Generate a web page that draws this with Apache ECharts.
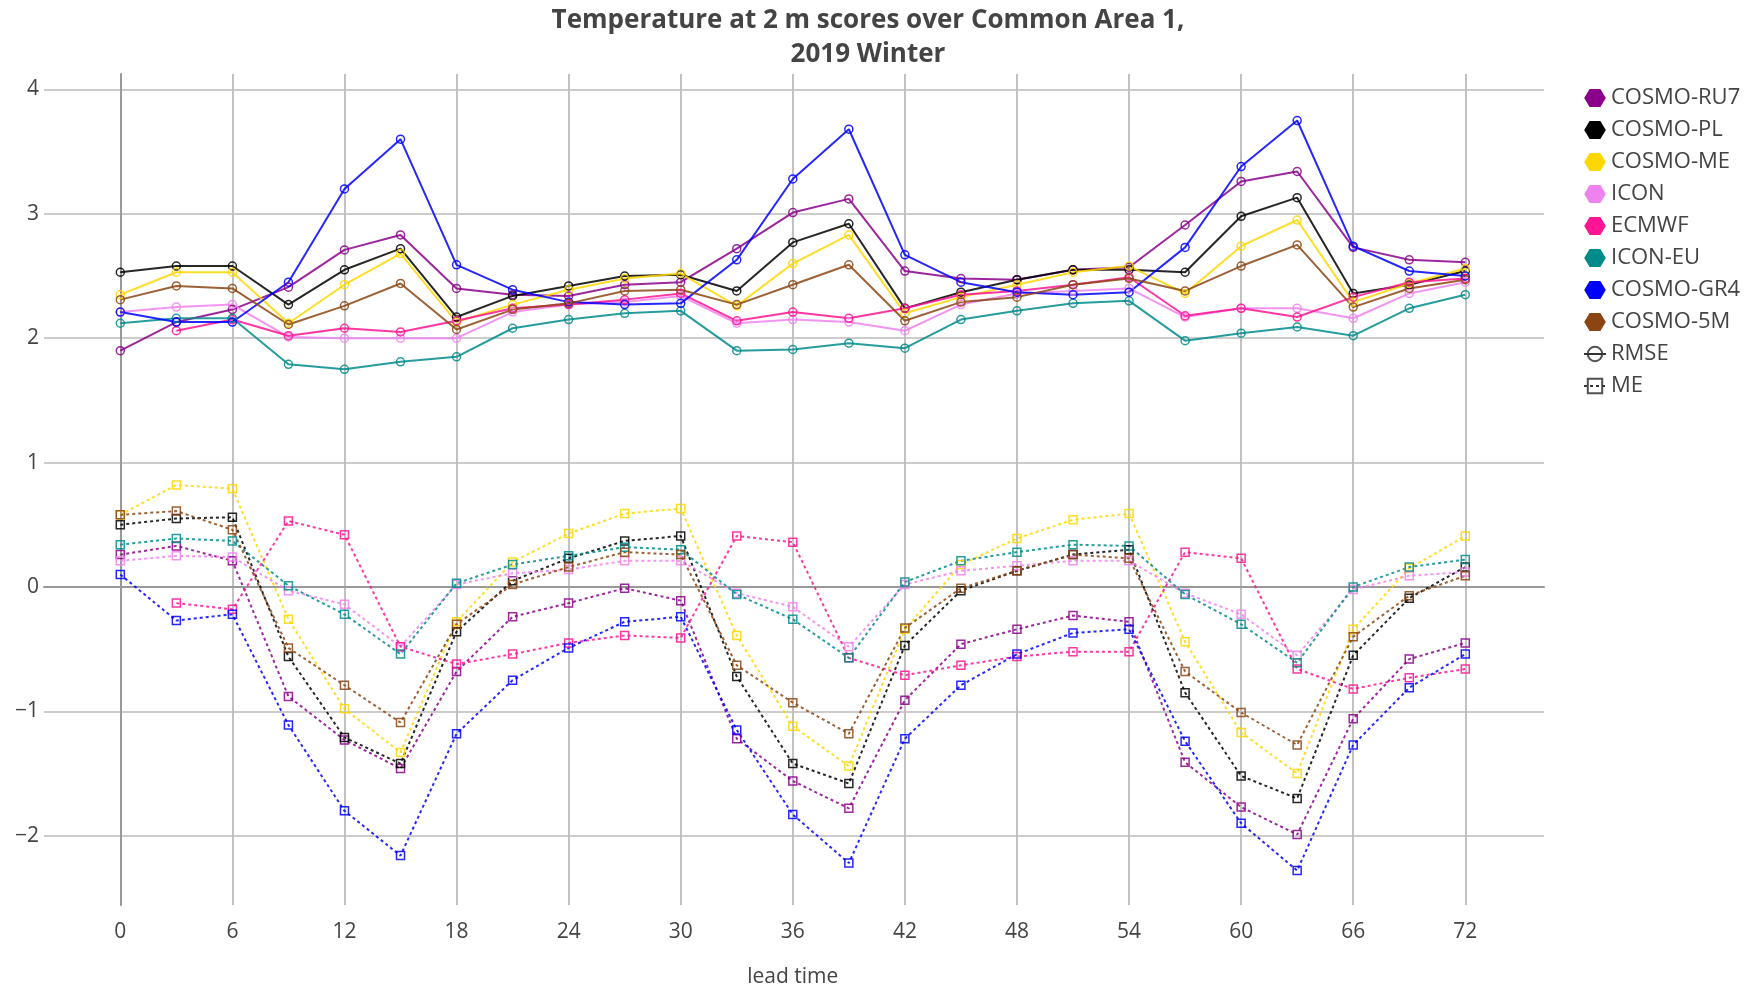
<!DOCTYPE html>
<html>
<head>
<meta charset="utf-8">
<title>Temperature at 2 m scores</title>
<script src="https://cdn.jsdelivr.net/npm/echarts@6/dist/echarts.min.js"></script>
<style>
  html, body { margin: 0; padding: 0; background: #fff; }
  #chart { width: 1757px; height: 989px; }
</style>
</head>
<body>
<div id="chart"></div>
<script>
const LEAD_TIMES = [0, 3, 6, 9, 12, 15, 18, 21, 24, 27, 30, 33, 36, 39, 42, 45, 48, 51, 54, 57, 60, 63, 66, 69, 72];
const X_TICKS = [0, 6, 12, 18, 24, 30, 36, 42, 48, 54, 60, 66, 72];
const Y_TICKS = [-2, -1, 0, 1, 2, 3, 4];

const MODELS = ['COSMO-RU7', 'COSMO-PL', 'COSMO-ME', 'ICON', 'ECMWF', 'ICON-EU', 'COSMO-GR4', 'COSMO-5M'];
const COLORS = ['#8b008b', '#000000', '#ffd700', '#ee82ee', '#ff1493', '#008b8b', '#0000ff', '#8b4513'];

// RMSE per model, one value per lead time (null = no data)
const RMSE_RU7 = [1.90, 2.13, 2.23, 2.41, 2.71, 2.83, 2.40, 2.35, 2.34, 2.43, 2.45, 2.72, 3.01, 3.12, 2.54, 2.48, 2.47, 2.55, 2.57, 2.91, 3.26, 3.34, 2.73, 2.63, 2.61];
const RMSE_PL = [2.53, 2.58, 2.58, 2.27, 2.55, 2.72, 2.17, 2.34, 2.42, 2.50, 2.51, 2.38, 2.77, 2.92, 2.24, 2.37, 2.47, 2.55, 2.55, 2.53, 2.98, 3.13, 2.36, 2.43, 2.54];
const RMSE_ME = [2.35, 2.53, 2.53, 2.12, 2.43, 2.68, 2.13, 2.27, 2.39, 2.48, 2.52, 2.26, 2.60, 2.83, 2.20, 2.33, 2.43, 2.53, 2.58, 2.36, 2.74, 2.95, 2.29, 2.44, 2.56];
const RMSE_ICON = [2.21, 2.25, 2.27, 2.01, 2.00, 2.00, 2.00, 2.21, 2.27, 2.29, 2.34, 2.12, 2.15, 2.13, 2.06, 2.27, 2.36, 2.38, 2.40, 2.17, 2.24, 2.24, 2.16, 2.36, 2.45];
const RMSE_ECMWF = [null, 2.06, 2.15, 2.02, 2.08, 2.05, 2.14, 2.24, 2.27, 2.31, 2.36, 2.14, 2.21, 2.16, 2.24, 2.35, 2.38, 2.43, 2.49, 2.18, 2.24, 2.17, 2.33, 2.45, 2.48];
const RMSE_ICONEU = [2.12, 2.16, 2.16, 1.79, 1.75, 1.81, 1.85, 2.08, 2.15, 2.20, 2.22, 1.90, 1.91, 1.96, 1.92, 2.15, 2.22, 2.28, 2.30, 1.98, 2.04, 2.09, 2.02, 2.24, 2.35];
const RMSE_GR4 = [2.21, 2.13, 2.13, 2.45, 3.20, 3.60, 2.59, 2.39, 2.29, 2.27, 2.28, 2.63, 3.28, 3.68, 2.67, 2.45, 2.37, 2.35, 2.37, 2.73, 3.38, 3.75, 2.74, 2.54, 2.50];
const RMSE_5M = [2.31, 2.42, 2.40, 2.11, 2.26, 2.44, 2.07, 2.23, 2.28, 2.38, 2.39, 2.27, 2.43, 2.59, 2.14, 2.29, 2.33, 2.43, 2.48, 2.38, 2.58, 2.75, 2.25, 2.40, 2.47];

// ME (mean error) per model
const ME_RU7 = [0.26, 0.33, 0.21, -0.88, -1.23, -1.46, -0.68, -0.24, -0.13, -0.01, -0.11, -1.22, -1.56, -1.78, -0.91, -0.46, -0.34, -0.23, -0.28, -1.41, -1.77, -1.99, -1.06, -0.58, -0.45];
const ME_PL = [0.50, 0.55, 0.56, -0.56, -1.21, -1.42, -0.36, 0.05, 0.23, 0.37, 0.41, -0.72, -1.42, -1.58, -0.47, -0.03, 0.13, 0.26, 0.30, -0.85, -1.52, -1.70, -0.55, -0.09, 0.16];
const ME_ME = [0.58, 0.82, 0.79, -0.26, -0.98, -1.33, -0.28, 0.20, 0.43, 0.59, 0.63, -0.39, -1.12, -1.44, -0.34, 0.18, 0.39, 0.54, 0.59, -0.44, -1.17, -1.50, -0.34, 0.15, 0.41];
const ME_ICON = [0.21, 0.25, 0.24, -0.03, -0.14, -0.48, 0.02, 0.11, 0.14, 0.21, 0.21, -0.05, -0.16, -0.48, 0.02, 0.13, 0.17, 0.21, 0.21, -0.05, -0.22, -0.55, -0.02, 0.09, 0.12];
const ME_ECMWF = [null, -0.13, -0.18, 0.53, 0.42, -0.48, -0.62, -0.54, -0.45, -0.39, -0.41, 0.41, 0.36, -0.57, -0.71, -0.63, -0.56, -0.52, -0.52, 0.28, 0.23, -0.66, -0.82, -0.73, -0.66];
const ME_ICONEU = [0.34, 0.39, 0.37, 0.01, -0.22, -0.54, 0.03, 0.18, 0.25, 0.32, 0.30, -0.06, -0.26, -0.57, 0.04, 0.21, 0.28, 0.34, 0.33, -0.06, -0.30, -0.61, 0.00, 0.16, 0.22];
const ME_GR4 = [0.10, -0.27, -0.22, -1.11, -1.80, -2.16, -1.18, -0.75, -0.49, -0.28, -0.24, -1.15, -1.83, -2.22, -1.22, -0.79, -0.54, -0.37, -0.34, -1.24, -1.90, -2.28, -1.27, -0.81, -0.54];
const ME_5M = [0.58, 0.61, 0.46, -0.49, -0.79, -1.09, -0.30, 0.02, 0.16, 0.28, 0.26, -0.63, -0.93, -1.18, -0.33, -0.01, 0.13, 0.26, 0.23, -0.68, -1.01, -1.27, -0.40, -0.07, 0.09];

const RMSE = [RMSE_RU7, RMSE_PL, RMSE_ME, RMSE_ICON, RMSE_ECMWF, RMSE_ICONEU, RMSE_GR4, RMSE_5M];
const ME = [ME_RU7, ME_PL, ME_ME, ME_ICON, ME_ECMWF, ME_ICONEU, ME_GR4, ME_5M];

const FONT = "'Open Sans', 'Noto Sans', sans-serif";
const TEXT = '#444';
const HEX = 'path://M0,5 L3,0 L9,0 L12,5 L9,10 L3,10 Z';

const chart = echarts.init(document.getElementById('chart'));

function toPairs(values) {
  return LEAD_TIMES
    .map((t, i) => [t, values[i]])
    .filter((p) => p[1] !== null);
}

function lineSeries(name, color, values, kind) {
  const isMe = kind === 'me';
  return {
    name,
    type: 'line',
    xAxisIndex: 1,
    yAxisIndex: 1,
    clip: false,
    symbol: isMe ? 'rect' : 'circle',
    symbolSize: 8,
    lineStyle: { color, width: 2, opacity: 0.85, type: isMe ? [3, 3] : 'solid' },
    itemStyle: { color: 'rgba(0,0,0,0)', borderColor: color, borderWidth: 1.5, opacity: 0.85 },
    emphasis: { disabled: true },
    data: values ? toPairs(values) : [],
  };
}

function buildSeries() {
  const out = [];
  MODELS.forEach((m, i) => out.push(lineSeries(m, COLORS[i], RMSE[i], 'rmse')));
  MODELS.forEach((m, i) => out.push(lineSeries(m, COLORS[i], ME[i], 'me')));
  out.push(lineSeries('RMSE', '#333', null, 'rmse'));
  out.push(lineSeries('ME', '#333', null, 'me'));
  return out;
}

const legendData = MODELS.map((m, i) => ({
  name: m,
  icon: HEX,
  itemStyle: { color: COLORS[i], borderWidth: 0, opacity: 1 },
})).concat([
  { name: 'RMSE', lineStyle: { color: '#333', width: 2, type: 'solid', opacity: 1 } },
  { name: 'ME', lineStyle: { color: '#333', width: 2, type: [3, 3], opacity: 1 } },
]);

chart.setOption({
  animation: false,
  textStyle: { fontFamily: FONT },
  title: {
    text: 'Temperature at 2 m scores over Common Area 1,\n2019 Winter',
    left: 863,
    top: -1,
    textAlign: 'center',
    textStyle: { fontFamily: FONT, fontSize: 26, fontWeight: 'bold', color: TEXT, lineHeight: 34 },
  },
  legend: {
    orient: 'vertical',
    left: 1578,
    top: 82,
    itemWidth: 22,
    itemHeight: 18,
    itemGap: 10,
    selectedMode: false,
    textStyle: { fontFamily: FONT, fontSize: 22, color: TEXT },
    data: legendData,
  },
  grid: [
    // horizontal gridlines + y labels, spanning the full plot width
    { left: 44, right: 213, top: 89.4, bottom: 989 - 835.7, outerBoundsMode: 'none' },
    // data area: x 0..72
    { left: 120.3, right: 1757 - 1465.3, top: 74, bottom: 84, outerBoundsMode: 'none' },
  ],
  xAxis: [
    {
      gridIndex: 0,
      type: 'value',
      min: 0,
      max: 1,
      axisLine: { show: true, onZero: true, lineStyle: { color: '#999', width: 2 } },
      axisTick: { show: false },
      axisLabel: { show: false },
      splitLine: { show: false },
    },
    {
      gridIndex: 1,
      type: 'value',
      min: X_TICKS[0],
      max: X_TICKS[X_TICKS.length - 1],
      interval: 6,
      name: 'lead time',
      nameLocation: 'middle',
      nameGap: 62,
      nameTextStyle: { fontFamily: FONT, fontSize: 21, color: TEXT },
      axisLine: { show: false },
      axisTick: { show: false },
      axisLabel: { fontFamily: FONT, fontSize: 21, color: TEXT, margin: 17 },
      splitLine: { show: true, lineStyle: { color: '#bbb', width: 1.8 } },
    },
  ],
  yAxis: [
    {
      gridIndex: 0,
      type: 'value',
      min: Y_TICKS[0],
      max: Y_TICKS[Y_TICKS.length - 1],
      interval: 1,
      axisLine: { show: false },
      axisTick: { show: false },
      axisLabel: {
        fontFamily: FONT,
        fontSize: 21,
        color: TEXT,
        margin: 5,
        formatter: (v) => String(v).replace('-', '\u2212'),
      },
      splitLine: { show: true, lineStyle: { color: '#ccc', width: 1.8 } },
    },
    {
      gridIndex: 1,
      type: 'value',
      min: -2.557,
      max: 4.124,
      axisLine: { show: true, onZero: false, lineStyle: { color: '#999', width: 2 } },
      axisTick: { show: false },
      axisLabel: { show: false },
      splitLine: { show: false },
    },
  ],
  series: buildSeries(),
});

window.addEventListener('resize', () => chart.resize());
</script>
</body>
</html>
